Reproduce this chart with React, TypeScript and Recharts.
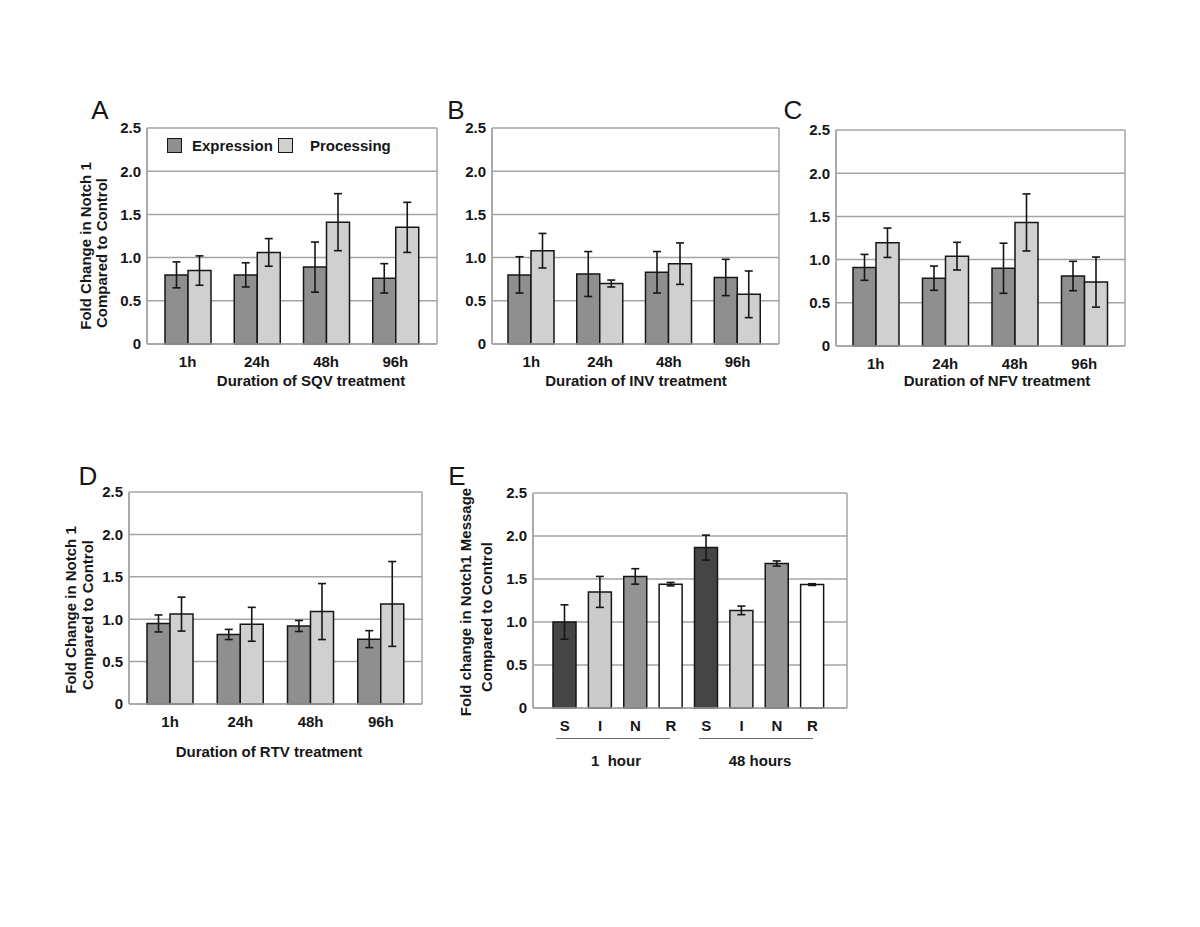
import { BarChart, Bar, XAxis, YAxis, CartesianGrid, ErrorBar, Cell, Legend } from "recharts";
import type { CSSProperties } from "react";

const timepoints = ["1h", "24h", "48h", "96h"];
const yTicks = [0, 0.5, 1, 1.5, 2, 2.5];

// A: SQV
const sqvExpression = [0.8, 0.8, 0.89, 0.76];
const sqvExpressionErr = [0.15, 0.14, 0.29, 0.17];
const sqvProcessing = [0.85, 1.06, 1.41, 1.35];
const sqvProcessingErr = [0.17, 0.16, 0.33, 0.29];

// B: INV
const invExpression = [0.8, 0.81, 0.83, 0.77];
const invExpressionErr = [0.21, 0.26, 0.24, 0.21];
const invProcessing = [1.08, 0.7, 0.93, 0.575];
const invProcessingErr = [0.2, 0.04, 0.24, 0.27];

// C: NFV
const nfvExpression = [0.91, 0.785, 0.9, 0.81];
const nfvExpressionErr = [0.15, 0.14, 0.29, 0.17];
const nfvProcessing = [1.195, 1.04, 1.43, 0.74];
const nfvProcessingErr = [0.17, 0.16, 0.33, 0.29];

// D: RTV
const rtvExpression = [0.95, 0.82, 0.92, 0.765];
const rtvExpressionErr = [0.1, 0.06, 0.065, 0.1];
const rtvProcessing = [1.06, 0.94, 1.09, 1.18];
const rtvProcessingErr = [0.2, 0.2, 0.33, 0.5];

// E: message levels, 1 hour then 48 hours
const drugs = ["S", "I", "N", "R", "S", "I", "N", "R"];
const messageFold = [1.0, 1.35, 1.53, 1.44, 1.865, 1.135, 1.68, 1.435];
const messageErr = [0.2, 0.18, 0.09, 0.02, 0.145, 0.05, 0.03, 0.01];
const drugColors = ["#454545", "#cbcbcb", "#939393", "#ffffff"];

const FONT = '"Liberation Sans", Arial, sans-serif';
const EXPR = "#8f8f8f";
const PROC = "#d0d0d0";
const GRID = "#a4a4a4";
const INK = "#161616";

const tickStyle = { fill: INK, fontSize: 15, fontWeight: "bold", fontFamily: FONT };

function makeRows(expr: number[], exprErr: number[], proc: number[], procErr: number[]) {
  return timepoints.map((t, i) => ({
    label: t,
    expression: expr[i],
    expressionErr: exprErr[i],
    processing: proc[i],
    processingErr: procErr[i],
  }));
}

const frameLines = ({ offset }: any) => [offset.left, offset.left + offset.width];

type Box = { left: number; top: number; plotW: number; plotH: number };

function boxStyle(b: Box): CSSProperties {
  return { position: "absolute", left: b.left - 50, top: b.top - 10 };
}

function LegendContent() {
  const sq = (c: string): CSSProperties => ({
    width: 15,
    height: 15,
    background: c,
    border: `1.5px solid ${INK}`,
    boxSizing: "border-box",
    display: "inline-block",
  });
  return (
    <div style={{ display: "flex", alignItems: "center", fontFamily: FONT, fontWeight: "bold", fontSize: 15, color: INK }}>
      <span style={sq(EXPR)} />
      <span style={{ marginLeft: 10 }}>Expression</span>
      <span style={{ ...sq(PROC), marginLeft: 5 }} />
      <span style={{ marginLeft: 17 }}>Processing</span>
    </div>
  );
}

function TimePanel({ rows, box, pad, legend }: { rows: any[]; box: Box; pad: [number, number]; legend?: boolean }) {
  return (
    <div style={boxStyle(box)}>
      <BarChart
        width={box.plotW + 60}
        height={box.plotH + 40}
        data={rows}
        margin={{ top: 10, right: 10, bottom: 0, left: 0 }}
        barGap={0}
      >
        <CartesianGrid stroke={GRID} strokeWidth={1.5} verticalCoordinatesGenerator={frameLines} />
        <XAxis
          dataKey="label"
          height={30}
          padding={{ left: pad[0], right: pad[1] }}
          axisLine={{ stroke: GRID, strokeWidth: 1.5 }}
          tickLine={false}
          tickSize={0}
          tickMargin={12}
          tick={tickStyle}
        />
        <YAxis
          width={50}
          domain={[0, 2.5]}
          ticks={yTicks}
          interval={0}
          tickFormatter={(v: number) => (v === 0 ? "0" : v.toFixed(1))}
          axisLine={{ stroke: GRID, strokeWidth: 1.5 }}
          tickLine={false}
          tickSize={0}
          tickMargin={6}
          tick={tickStyle}
        />
        {legend && (
          <Legend
            layout="vertical"
            align="center"
            verticalAlign="middle"
            wrapperStyle={{ top: 19, left: 70, width: 260 }}
            content={() => <LegendContent />}
          />
        )}
        <Bar dataKey="expression" name="Expression" barSize={23} fill={EXPR} stroke={INK} strokeWidth={1.5} isAnimationActive={false}>
          <ErrorBar dataKey="expressionErr" width={4} stroke={INK} strokeWidth={1.6} isAnimationActive={false} />
        </Bar>
        <Bar dataKey="processing" name="Processing" barSize={23} fill={PROC} stroke={INK} strokeWidth={1.5} isAnimationActive={false}>
          <ErrorBar dataKey="processingErr" width={4} stroke={INK} strokeWidth={1.6} isAnimationActive={false} />
        </Bar>
      </BarChart>
    </div>
  );
}

function MessagePanel({ box }: { box: Box }) {
  const rows = drugs.map((d, i) => ({ drug: d, fold: messageFold[i], err: messageErr[i] }));
  return (
    <div style={boxStyle(box)}>
      <BarChart
        width={box.plotW + 60}
        height={box.plotH + 40}
        data={rows}
        margin={{ top: 10, right: 10, bottom: 0, left: 0 }}
      >
        <CartesianGrid stroke={GRID} strokeWidth={1.5} verticalCoordinatesGenerator={frameLines} />
        <XAxis
          dataKey="drug"
          height={30}
          padding={{ left: 14, right: 17 }}
          axisLine={{ stroke: GRID, strokeWidth: 1.5 }}
          tickLine={false}
          tickSize={0}
          tickMargin={12}
          tick={tickStyle}
        />
        <YAxis
          width={50}
          domain={[0, 2.5]}
          ticks={yTicks}
          interval={0}
          tickFormatter={(v: number) => (v === 0 ? "0" : v.toFixed(1))}
          axisLine={{ stroke: GRID, strokeWidth: 1.5 }}
          tickLine={false}
          tickSize={0}
          tickMargin={6}
          tick={tickStyle}
        />
        <Bar dataKey="fold" barSize={23} stroke={INK} strokeWidth={1.5} isAnimationActive={false}>
          {rows.map((_, i) => (
            <Cell key={i} fill={drugColors[i % 4]} />
          ))}
          <ErrorBar dataKey="err" width={4} stroke={INK} strokeWidth={1.6} isAnimationActive={false} />
        </Bar>
      </BarChart>
    </div>
  );
}

function Txt({ x, y, children, size = 15, weight = "bold", rotate = false }: any) {
  return (
    <div
      style={{
        position: "absolute",
        left: x,
        top: y,
        transform: `translate(-50%, -50%)${rotate ? " rotate(-90deg)" : ""}`,
        whiteSpace: "pre",
        fontFamily: FONT,
        fontSize: size,
        fontWeight: weight,
        color: INK,
        lineHeight: 1,
      }}
    >
      {children}
    </div>
  );
}

function GroupLine({ x1, x2, y }: { x1: number; x2: number; y: number }) {
  return <div style={{ position: "absolute", left: x1, top: y, width: x2 - x1, height: 1, background: "#6a6a6a" }} />;
}

export default function App() {
  return (
    <div style={{ position: "absolute", left: 0, top: 0, width: 1200, height: 927, background: "#fff", overflow: "hidden" }}>
      <TimePanel
        rows={makeRows(sqvExpression, sqvExpressionErr, sqvProcessing, sqvProcessingErr)}
        box={{ left: 147, top: 128, plotW: 290, plotH: 216 }}
        pad={[6, 7]}
        legend
      />
      <TimePanel
        rows={makeRows(invExpression, invExpressionErr, invProcessing, invProcessingErr)}
        box={{ left: 492, top: 128, plotW: 287, plotH: 216 }}
        pad={[5, 7]}
      />
      <TimePanel
        rows={makeRows(nfvExpression, nfvExpressionErr, nfvProcessing, nfvProcessingErr)}
        box={{ left: 836, top: 130, plotW: 289, plotH: 216 }}
        pad={[5, 6]}
      />
      <TimePanel
        rows={makeRows(rtvExpression, rtvExpressionErr, rtvProcessing, rtvProcessingErr)}
        box={{ left: 129, top: 492, plotW: 293, plotH: 212 }}
        pad={[6, 6]}
      />
      <MessagePanel box={{ left: 533, top: 493, plotW: 314, plotH: 215 }} />

      {/* panel letters */}
      <Txt x={100} y={110} size={26} weight="normal">A</Txt>
      <Txt x={456} y={110} size={26} weight="normal">B</Txt>
      <Txt x={793} y={110} size={26} weight="normal">C</Txt>
      <Txt x={88} y={476} size={26} weight="normal">D</Txt>
      <Txt x={457} y={476} size={26} weight="normal">E</Txt>

      {/* axis titles */}
      <Txt x={85} y={246} rotate>Fold Change in Notch 1</Txt>
      <Txt x={101} y={253} rotate>Compared to Control</Txt>
      <Txt x={70} y={610} rotate>Fold Change in Notch 1</Txt>
      <Txt x={87} y={615} rotate>Compared to Control</Txt>
      <Txt x={465} y={602} rotate>Fold change in Notch1 Message</Txt>
      <Txt x={486} y={617} rotate>Compared to Control</Txt>

      <Txt x={311} y={380}>Duration of SQV treatment</Txt>
      <Txt x={636} y={380}>Duration of INV treatment</Txt>
      <Txt x={997} y={380}>Duration of NFV treatment</Txt>
      <Txt x={269} y={751}>Duration of RTV treatment</Txt>

      <GroupLine x1={556} x2={670} y={738} />
      <GroupLine x1={699} x2={813} y={738} />
      <Txt x={616} y={760}>{"1  hour"}</Txt>
      <Txt x={760} y={760}>48 hours</Txt>
    </div>
  );
}
